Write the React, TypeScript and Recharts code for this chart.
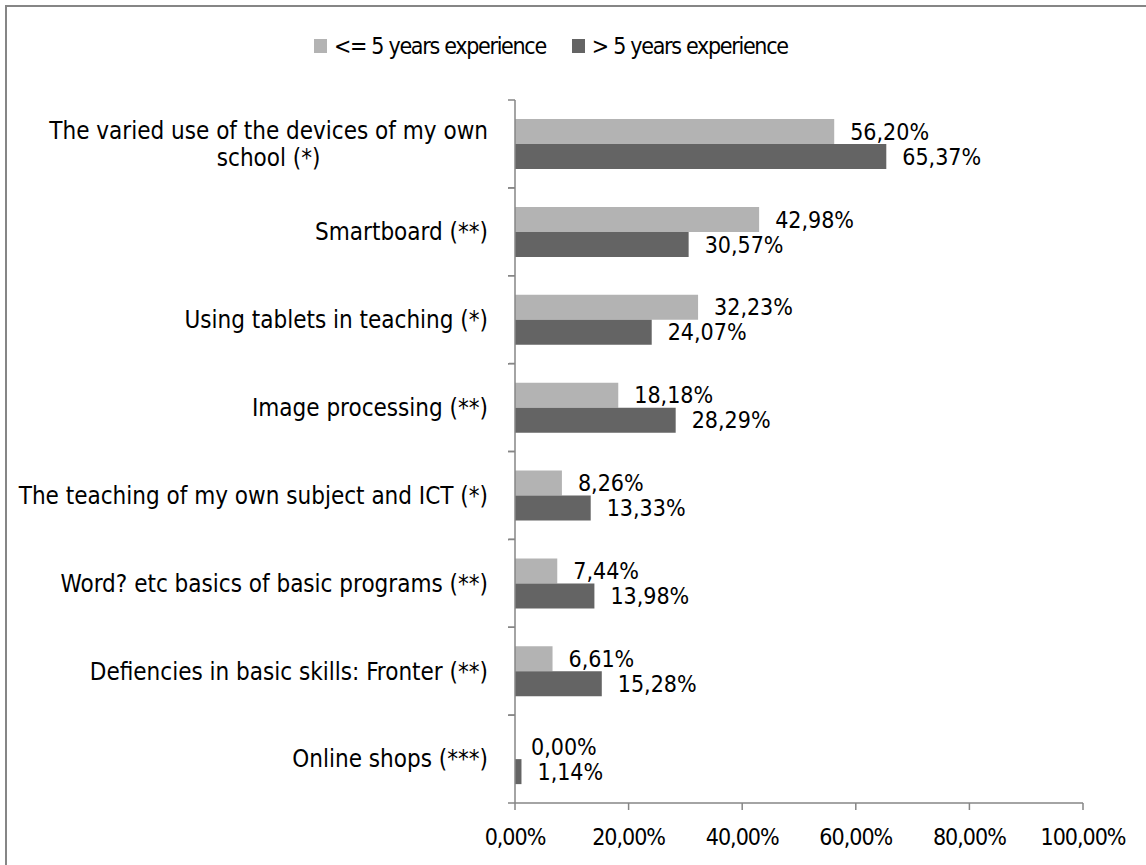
import React from 'react';
import { Bar, BarChart, LabelList, XAxis, YAxis } from 'recharts';

// values (percent)
const categories = [
  'The varied use of the devices of my own school (*)',
  'Smartboard (**)',
  'Using tablets in teaching (*)',
  'Image processing (**)',
  'The teaching of my own subject and ICT (*)',
  'Word? etc basics of basic programs (**)',
  'Defiencies in basic skills: Fronter (**)',
  'Online shops (***)',
];
const upTo5 = [56.2, 42.98, 32.23, 18.18, 8.26, 7.44, 6.61, 0.0];
const over5 = [65.37, 30.57, 24.07, 28.29, 13.33, 13.98, 15.28, 1.14];
const xTicks = [0, 20, 40, 60, 80, 100];
const seriesNames = ['<= 5 years experience', '> 5 years experience'];

const data = categories.map((category, i) => ({ category, upTo5: upTo5[i], over5: over5[i] }));

const W = 1146;
const H = 865;
const MARGIN = { top: 100, right: 63, bottom: 0, left: 0 };
const X_AXIS_H = 62;
const Y_AXIS_W = 515;
const TICK_LEN = 7;
const TICK_GAP = 20;
const BAND = (H - MARGIN.top - MARGIN.bottom - X_AXIS_H) / categories.length;

const FONT = '"Liberation Sans Narrow", "DejaVu Sans Condensed", "Arial Narrow", sans-serif';
const FONT_SIZE = 23;
const CAT_FONT_SIZE = 24;
const LIGHT = '#b3b3b3';
const DARK = '#646464';
const AXIS = '#868686';

const pct = (v: number) => `${v.toFixed(2).replace('.', ',')}%`;

let ctx: CanvasRenderingContext2D | null = null;
function measure(s: string) {
  if (!ctx) ctx = document.createElement('canvas').getContext('2d');
  if (!ctx) return s.length * 10;
  ctx.font = `${CAT_FONT_SIZE}px ${FONT}`;
  return ctx.measureText(s).width;
}

function wrap(text: string, maxW: number) {
  const words = text.split(' ');
  const lines: string[] = [];
  let cur = '';
  for (const w of words) {
    const next = cur ? cur + ' ' + w : w;
    if (cur && measure(next) > maxW) {
      lines.push(cur);
      cur = w;
    } else cur = next;
  }
  if (cur) lines.push(cur);
  return lines;
}

function CategoryTick(props: any) {
  const { x, y, payload } = props;
  const axisX = x + TICK_GAP + TICK_LEN;
  const lines = wrap(String(payload.value), 485);
  const widest = Math.max(...lines.map(measure));
  const cx = x - widest / 2;
  const lh = 27;
  const y0 = y - ((lines.length - 1) * lh) / 2;
  return (
    <g>
      <line x1={axisX - TICK_LEN} x2={axisX} y1={y - BAND / 2} y2={y - BAND / 2} stroke={AXIS} strokeWidth={1.5} />
      <line x1={axisX - TICK_LEN} x2={axisX} y1={y + BAND / 2} y2={y + BAND / 2} stroke={AXIS} strokeWidth={1.5} />
      <text textAnchor="middle" fontFamily={FONT} fontSize={CAT_FONT_SIZE} fill="#000">
        {lines.map((l, i) => (
          <tspan key={i} x={cx} y={y0 + i * lh} dy="0.35em">
            {l}
          </tspan>
        ))}
      </text>
    </g>
  );
}

function LegendRow() {
  const colors = [LIGHT, DARK];
  return (
    <div
      style={{
        position: 'absolute',
        left: 314,
        top: 32,
        display: 'flex',
        alignItems: 'center',
        gap: 26,
        fontFamily: FONT,
        fontSize: FONT_SIZE,
        letterSpacing: -1.3,
        lineHeight: '28px',
        color: '#000',
        whiteSpace: 'nowrap',
      }}
    >
      {seriesNames.map((n, i) => (
        <div key={n} style={{ display: 'flex', alignItems: 'center' }}>
          <span style={{ display: 'inline-block', width: 13, height: 14, background: colors[i], marginRight: 7 }} />
          <span>{n}</span>
        </div>
      ))}
    </div>
  );
}

const labelProps = {
  position: 'right' as const,
  offset: 16,
  formatter: (v: any) => pct(Number(v)),
  fill: '#000',
  fontFamily: FONT,
  fontSize: FONT_SIZE,
};

export default function App() {
  return (
    <div style={{ position: 'fixed', left: 0, top: 0, width: W, height: H, overflow: 'hidden', background: '#fff' }}>
      <div
        style={{
          position: 'absolute',
          left: 5,
          top: 5,
          width: W + 40,
          height: H + 40,
          border: `2px solid ${AXIS}`,
        }}
      />
      <LegendRow />
      <div style={{ position: 'absolute', left: 0, top: 0 }}>
        <BarChart width={W} height={H} data={data} layout="vertical" margin={MARGIN} barGap={0} barSize={25}>
          <XAxis
            type="number"
            domain={[0, 100]}
            ticks={xTicks}
            tickFormatter={pct}
            height={X_AXIS_H}
            tickSize={TICK_LEN}
            tickMargin={19}
            stroke={AXIS}
            strokeWidth={1.5}
            tick={{ fill: '#000', fontFamily: FONT, fontSize: FONT_SIZE, letterSpacing: -1 }}
          />
          <YAxis
            type="category"
            dataKey="category"
            width={Y_AXIS_W}
            tickLine={false}
            tickSize={TICK_LEN}
            tickMargin={TICK_GAP}
            stroke={AXIS}
            strokeWidth={1.5}
            interval={0}
            tick={<CategoryTick />}
          />
          <Bar dataKey="upTo5" name={seriesNames[0]} fill={LIGHT} minPointSize={0.01} isAnimationActive={false}>
            <LabelList dataKey="upTo5" {...labelProps} />
          </Bar>
          <Bar dataKey="over5" name={seriesNames[1]} fill={DARK} isAnimationActive={false}>
            <LabelList dataKey="over5" {...labelProps} />
          </Bar>
        </BarChart>
      </div>
    </div>
  );
}
